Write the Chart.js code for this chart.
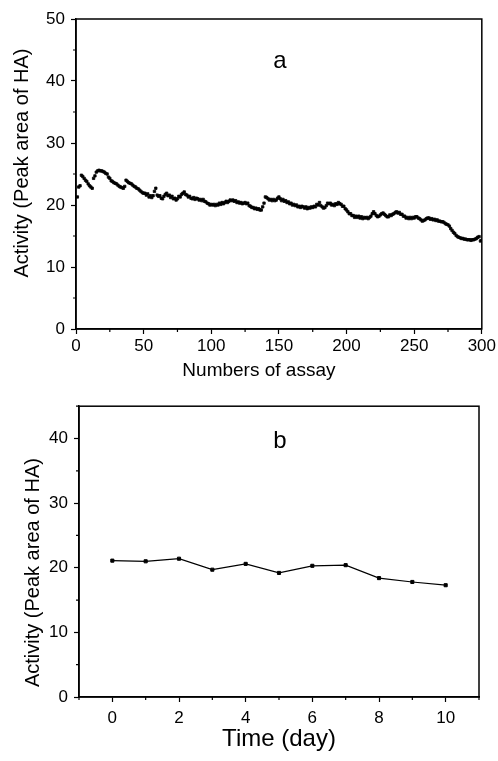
<!DOCTYPE html>
<html>
<head>
<meta charset="utf-8">
<script src="https://cdn.jsdelivr.net/npm/chart.js@4/dist/chart.umd.min.js"></script>
<style>
  html, body { margin: 0; padding: 0; background: #fff; }
  body { width: 498px; height: 761px; position: relative; overflow: hidden; }
  canvas { position: absolute; left: 0; }
  #c1 { top: 0; }
  #c2 { top: 390px; }
</style>
</head>
<body>
<canvas id="c1" width="498" height="390"></canvas>
<canvas id="c2" width="498" height="371"></canvas>
<script>
// ---- Panel a: activity vs number of assay (assay 1..300) ----
const activityA = [
  21.3, 22.9, 23.1, 24.8, 24.6, 24.3, 24.0, 23.8, 23.4, 23.1,
  22.9, 22.7, 24.3, 24.7, 25.3, 25.5, 25.6, 25.5, 25.5, 25.4,
  25.3, 25.1, 25.0, 24.5, 24.3, 23.9, 23.8, 23.6, 23.5, 23.4,
  23.2, 23.0, 22.9, 22.8, 22.7, 23.0, 24.0, 23.8, 23.6, 23.5,
  23.4, 23.2, 23.0, 22.9, 22.7, 22.6, 22.4, 22.2, 22.0, 21.9,
  21.9, 21.6, 21.8, 21.3, 21.5, 21.2, 21.5, 22.2, 22.7, 21.6,
  21.4, 21.5, 21.1, 21.0, 21.4, 21.7, 21.9, 21.5, 21.6, 21.2,
  21.4, 21.0, 21.1, 20.8, 21.0, 21.4, 21.3, 21.7, 21.9, 22.1,
  21.7, 21.6, 21.3, 21.4, 21.1, 21.0, 21.2, 20.9, 21.1, 21.0,
  20.8, 20.9, 20.7, 20.9, 20.6, 20.5, 20.3, 20.2, 20.0, 20.1,
  20.0, 20.1, 19.9, 20.1, 20.0, 20.3, 20.1, 20.4, 20.2, 20.4,
  20.6, 20.4, 20.6, 20.8, 20.7, 20.8, 20.6, 20.7, 20.4, 20.5,
  20.3, 20.4, 20.2, 20.3, 20.4, 20.2, 20.3, 19.9, 19.8, 19.6,
  19.6, 19.4, 19.5, 19.3, 19.4, 19.2, 19.2, 19.7, 20.3, 21.3,
  21.2, 21.0, 20.8, 20.9, 20.7, 20.9, 20.7, 20.8, 21.1, 21.3,
  21.0, 20.7, 20.9, 20.6, 20.7, 20.4, 20.5, 20.2, 20.3, 20.0,
  20.1, 19.9, 20.0, 19.7, 19.8, 19.6, 19.8, 19.7, 19.5, 19.7,
  19.4, 19.6, 19.5, 19.7, 19.6, 19.8, 19.7, 20.1, 20.0, 20.4,
  19.9, 19.7, 19.5, 19.6, 19.9, 20.3, 20.2, 20.3, 20.0, 20.1,
  19.9, 20.2, 20.1, 20.4, 20.2, 20.1, 19.8, 19.8, 19.4, 19.2,
  18.9, 18.6, 18.6, 18.3, 18.3, 18.0, 18.2, 18.0, 18.2, 17.9,
  18.1, 17.8, 18.0, 17.9, 18.0, 17.8, 18.0, 18.2, 18.6, 18.9,
  18.6, 18.3, 18.1, 18.2, 18.4, 18.6, 18.7, 18.5, 18.3, 18.1,
  18.1, 18.4, 18.3, 18.5, 18.6, 18.8, 18.9, 18.7, 18.8, 18.5,
  18.5, 18.2, 18.2, 17.9, 18.0, 17.8, 18.0, 17.8, 18.0, 17.9,
  18.1, 18.1, 17.9, 17.8, 17.6, 17.4, 17.5, 17.6, 17.8, 17.9,
  17.9, 17.7, 17.8, 17.6, 17.7, 17.5, 17.6, 17.4, 17.4, 17.3,
  17.3, 17.2, 17.0, 16.9, 16.8, 16.6, 16.2, 15.9, 15.6, 15.4,
  15.1, 14.9, 14.8, 14.7, 14.6, 14.6, 14.5, 14.5, 14.4, 14.4,
  14.4, 14.3, 14.4, 14.4, 14.5, 14.6, 14.8, 14.9, 14.2, 14.3
];

// ---- Panel b: activity vs storage time ----
const days = [0, 1, 2, 3, 4, 5, 6, 7, 8, 9, 10];
const activityB = [21.1, 21.0, 21.4, 19.7, 20.6, 19.2, 20.3, 20.4, 18.4, 17.8, 17.3];

const axisTitleA = 'Numbers of assay';
const axisTitleB = 'Time (day)';
const yTitle = 'Activity (Peak area of HA)';

const FONT = "'Liberation Sans', Arial, Helvetica, sans-serif";

const framePlugin = {
  id: 'framePlugin',
  afterLayout(chart, args, opts) {
    ['x', 'y'].forEach(id => {
      const s = chart.scales[id];
      const sh = opts[id + 'TitleShift'];
      if (!s || !sh || s._shiftPatched) return;
      const orig = s.drawTitle;
      s.drawTitle = function () {
        const c = this.ctx;
        c.save();
        c.translate(sh[0], sh[1]);
        orig.apply(this, arguments);
        c.restore();
      };
      s._shiftPatched = true;
    });
  },
  afterDraw(chart, args, opts) {
    const { ctx, chartArea: a, scales } = chart;
    ctx.save();
    ctx.strokeStyle = '#000';
    ctx.lineWidth = 1.5;
    ctx.strokeRect(a.left, a.top, a.right - a.left, a.bottom - a.top);
    ctx.lineWidth = 1.2;
    ctx.beginPath();
    scales.x.ticks.forEach(t => {
      if (t.value % opts.xMajor !== 0) {
        const px = scales.x.getPixelForValue(t.value);
        ctx.moveTo(px, a.bottom);
        ctx.lineTo(px, a.bottom + 3);
      }
    });
    scales.y.ticks.forEach(t => {
      if (t.value % opts.yMajor !== 0) {
        const py = scales.y.getPixelForValue(t.value);
        ctx.moveTo(a.left, py);
        ctx.lineTo(a.left - 3, py);
      }
    });
    ctx.stroke();
    if (opts.label) {
      ctx.fillStyle = '#000';
      ctx.font = '24px ' + FONT;
      ctx.textAlign = 'center';
      ctx.textBaseline = 'alphabetic';
      ctx.fillText(opts.label, opts.labelX, opts.labelY);
    }
    ctx.restore();
  }
};

function makeScales(cfg) {
  return {
    x: {
      type: 'linear',
      min: cfg.xMin, max: cfg.xMax,
      afterFit: s => { s.height = cfg.xHeight; },
      border: { display: true, color: '#000', width: 1.5 },
      grid: {
        drawOnChartArea: false, drawTicks: true, tickLength: 5, tickWidth: 1.2,
        tickColor: c => (c.tick && c.tick.value % cfg.xMajor === 0) ? '#000' : 'rgba(0,0,0,0)'
      },
      ticks: {
        stepSize: cfg.xStep, autoSkip: false, maxRotation: 0, padding: cfg.xPad,
        color: '#000', font: { family: FONT, size: 17 },
        callback: v => (v % cfg.xMajor === 0 ? String(v) : '')
      },
      title: {
        display: true, text: cfg.xTitle, color: '#000',
        font: { family: FONT, size: cfg.xTitleSize }, padding: { top: 0, bottom: cfg.xTitlePad }
      }
    },
    y: {
      type: 'linear',
      min: cfg.yMin, max: cfg.yMax,
      afterFit: s => { s.width = cfg.yWidth; },
      border: { display: true, color: '#000', width: 1.5 },
      grid: {
        drawOnChartArea: false, drawTicks: true, tickLength: 5, tickWidth: 1.2,
        tickColor: c => (c.tick && c.tick.value % cfg.yMajor === 0) ? '#000' : 'rgba(0,0,0,0)'
      },
      ticks: {
        stepSize: 5, autoSkip: false, padding: 6,
        color: '#000', font: { family: FONT, size: 17 },
        callback: v => (v % cfg.yMajor === 0 ? String(v) : '')
      },
      title: {
        display: true, text: yTitle, color: '#000',
        font: { family: FONT, size: 20 }, padding: { top: cfg.yTitlePad, bottom: 0 }
      }
    }
  };
}

new Chart(document.getElementById('c1'), {
  type: 'scatter',
  data: {
    datasets: [{
      data: activityA.map((v, i) => ({ x: i + 1, y: v })),
      pointStyle: 'rect',
      pointRadius: 1.7,
      pointBorderWidth: 0.8,
      pointBackgroundColor: '#000',
      pointBorderColor: '#000',
      showLine: false
    }]
  },
  options: {
    responsive: false, animation: false, devicePixelRatio: 1,
    layout: { padding: { top: 19, right: 15, bottom: 0, left: 0 } },
    plugins: {
      legend: { display: false }, tooltip: { enabled: false },
      framePlugin: { xMajor: 50, yMajor: 10, label: 'a', labelX: 280, labelY: 68,
                     xTitleShift: [-20, 0], yTitleShift: [0, -11] }
    },
    scales: makeScales({
      xMin: 0, xMax: 300, xStep: 25, xMajor: 50, xHeight: 61, xPad: 2,
      xTitle: axisTitleA, xTitleSize: 19, xTitlePad: 8,
      yMin: 0, yMax: 50, yMajor: 10, yWidth: 76, yTitlePad: 10
    })
  },
  plugins: [framePlugin]
});

new Chart(document.getElementById('c2'), {
  type: 'line',
  data: {
    datasets: [{
      data: days.map((d, i) => ({ x: d, y: activityB[i] })),
      borderColor: '#000',
      borderWidth: 1.2,
      pointStyle: 'rect',
      pointRadius: 2.2,
      pointBorderWidth: 1,
      pointBackgroundColor: '#000',
      pointBorderColor: '#000',
      tension: 0,
      fill: false
    }]
  },
  options: {
    responsive: false, animation: false, devicePixelRatio: 1,
    layout: { padding: { top: 10, right: 19, bottom: 0, left: 0 } },
    plugins: {
      legend: { display: false }, tooltip: { enabled: false },
      framePlugin: { xMajor: 2, yMajor: 10, label: 'b', labelX: 280, labelY: 58,
                     yTitleShift: [0, 21] }
    },
    scales: makeScales({
      xMin: -1, xMax: 11, xStep: 1, xMajor: 2, xHeight: 64, xPad: 6,
      xTitle: axisTitleB, xTitleSize: 24, xTitlePad: 7,
      yMin: 0, yMax: 45, yMajor: 10, yWidth: 79, yTitlePad: 21
    })
  },
  plugins: [framePlugin]
});
</script>
</body>
</html>
